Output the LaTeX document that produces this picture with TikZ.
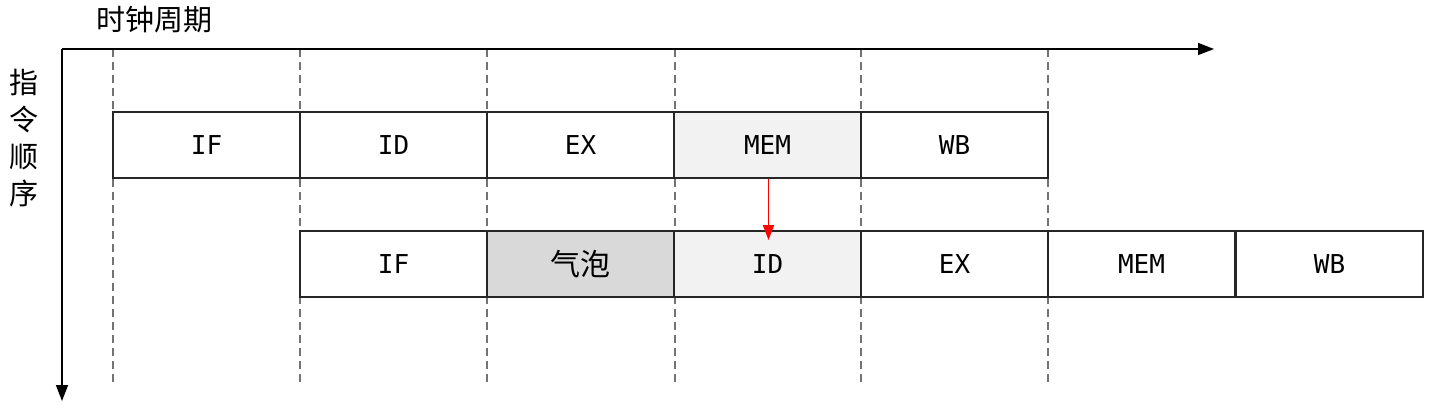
\documentclass[tikz,border=0pt]{standalone}
\usepackage{fontspec}
\setmonofont{DejaVu Sans Mono}
\newfontfamily\cjk{Noto Sans CJK SC}
\usetikzlibrary{arrows.meta}
\begin{document}
\begin{tikzpicture}[x=1pt,y=-1pt,
  stage/.style={draw=black!85,line width=1.6pt,minimum width=187pt,minimum height=66pt,inner sep=0pt,
    font=\ttfamily\fontsize{26}{26}\selectfont,fill=white},
  axis/.style={line width=1.6pt,-{Triangle[length=16pt,width=12pt]}},
  grid/.style={draw=black!55,line width=1.6pt,dash pattern=on 8pt off 5pt},
  cjklabel/.style={font=\cjk\fontsize{29}{37}\selectfont,inner sep=0pt}]
\useasboundingbox (0,0) rectangle (1431,408);
% grid lines
\foreach \i/\x in {1/113,2/300,3/487,4/675,5/861,6/1048}{
  \coordinate (gt\i) at (\x,49);
  \coordinate (gb\i) at (\x,383);
  \draw[grid] (gt\i) -- (gb\i);
}
% axes
\coordinate (o) at (62,49);
\coordinate (xe) at (1214,49);
\coordinate (ye) at (62,401);
\draw[axis] (o) -- (xe);
\draw[axis] (o) -- (ye);
\node[cjklabel] (tlab) at (154,20) {时钟周期};
\node[cjklabel,align=center] (ilab) at (24,138) {指\\令\\顺\\序};
% row 1
\node[stage] (a1) at (206.5,145) {IF};
\node[stage] (a2) at (393.5,145) {ID};
\node[stage] (a3) at (580.5,145) {EX};
\node[stage,fill=black!5] (a4) at (767.5,145) {MEM};
\node[stage] (a5) at (954.5,145) {WB};
% row 2
\node[stage] (b1) at (393.5,264) {IF};
\node[stage,fill=black!15,font=\cjk\fontsize{30}{30}\selectfont] (b2) at (580.5,264) {气泡};
\node[stage,fill=black!5] (b3) at (767.5,264) {ID};
\node[stage] (b4) at (954.5,264) {EX};
\node[stage] (b5) at (1141.5,264) {MEM};
\node[stage] (b6) at (1329.5,264) {WB};
% dependency
\coordinate (dep) at (768.5,240);
\draw[red,line width=1.7pt,-{Triangle[length=15pt,width=11pt]}] ([xshift=1pt]a4.south) -- (dep);
\end{tikzpicture}
\end{document}
